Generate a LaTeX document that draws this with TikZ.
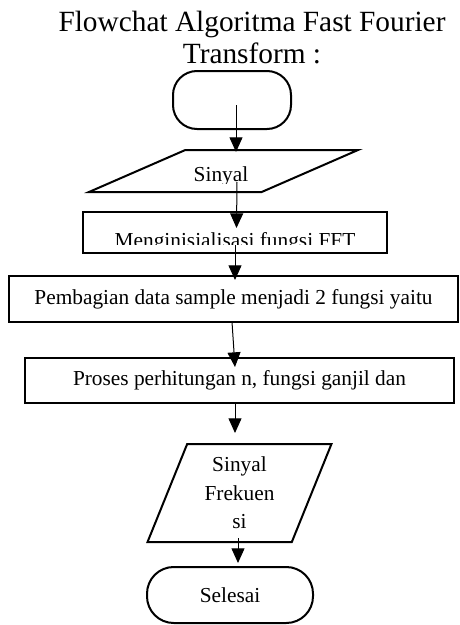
\documentclass[tikz,border=0pt]{standalone}
\usepackage{fontspec}
\setmainfont{Liberation Serif}
\usetikzlibrary{shapes.geometric,arrows.meta}
\tikzset{
  flowline/.style={line width=0.75pt,-{Triangle[width=9.75pt,length=11pt]}},
  termbox/.style={draw,line width=1.5pt,rounded corners=18pt,inner sep=0pt},
  procbox/.style={draw,line width=1.5pt,inner sep=0pt},
  iobox/.style={draw,line width=1.5pt,trapezium,trapezium stretches=true,inner sep=1pt},
  txt/.style={font=\fontsize{16}{21.4}\selectfont}
}
\begin{document}
\begin{tikzpicture}[x=0.75pt,y=-0.75pt,every node/.append style={txt}]
            \useasboundingbox (0,0) rectangle (460,625);
            %Judul
            \node [align=center, font=\fontsize{22}{24}\selectfont, anchor=north, inner sep=0pt]
            (judul)at(252,11){Flowchat Algoritma Fast Fourier\\Transform :};
            %Mulai
            \node [termbox, minimum width=88.5pt, minimum height=43.5pt]
            (mulai)at(232,100){};
            %Sinyal
            \node [iobox, trapezium left angle=38.4, trapezium right angle=141.6, minimum width=201.75pt, minimum height=31.5pt]
            (sinyal)at(223.5,171){};
            \begin{scope}
            \clip ([shift={(-140,-25)}]sinyal.center) rectangle ([shift={(140,12)}]sinyal.center);
            \node [anchor=base, inner sep=0pt]
            (sinyaltxt)at(221,181){Sinyal};
            \end{scope}
            %Inisialisasi FFT
            \node [procbox, minimum width=228pt, minimum height=30.75pt]
            (init)at(235,232.5){};
            \begin{scope}
            \clip (init.north west) rectangle ([shift={(0,-10)}]init.south east);
            \node [anchor=base, inner sep=0pt]
            (inittxt)at(235,247.5){Menginisialisasi fungsi FFT};
            \end{scope}
            %Pembagian data
            \node [procbox, minimum width=336.75pt, minimum height=34.5pt]
            (bagi)at(233.5,299){Pembagian data sample menjadi 2 fungsi yaitu};
            %Perhitungan
            \node [procbox, minimum width=321.75pt, minimum height=33.75pt]
            (hitung)at(239.5,380.5){Proses perhitungan n, fungsi ganjil dan};
            %Sinyal frekuensi
            \node [iobox, trapezium left angle=69.8, trapezium right angle=110.2, minimum width=138.75pt, minimum height=73.5pt, align=center]
            (frek)at(239.5,493){Sinyal\\Frekuen\\si};
            %Selesai
            \node [termbox, rounded corners=20pt, minimum width=124.5pt, minimum height=42pt]
            (selesai)at(230,595){Selesai};

            \draw [flowline]([shift={(4,5)}]mulai.center)--([shift={(12.5,-19)}]sinyal.center);
            \draw [flowline]([shift={(13.5,11)}]sinyal.center)--([shift={(1.5,-4.5)}]init.center);
            \draw [flowline]([shift={(0,12.5)}]init.center)--([shift={(1.5,-19)}]bagi.center);
            \draw [flowline]([shift={(-1.5,23)}]bagi.center)--([shift={(-4.5,-13.5)}]hitung.center);
            \draw [flowline]([shift={(-4.5,22.5)}]hitung.center)--([shift={(-4.5,-60)}]frek.center);
            \draw [flowline]([shift={(-1.5,45)}]frek.center)--([shift={(8,-32)}]selesai.center);

        \end{tikzpicture}
\end{document}
